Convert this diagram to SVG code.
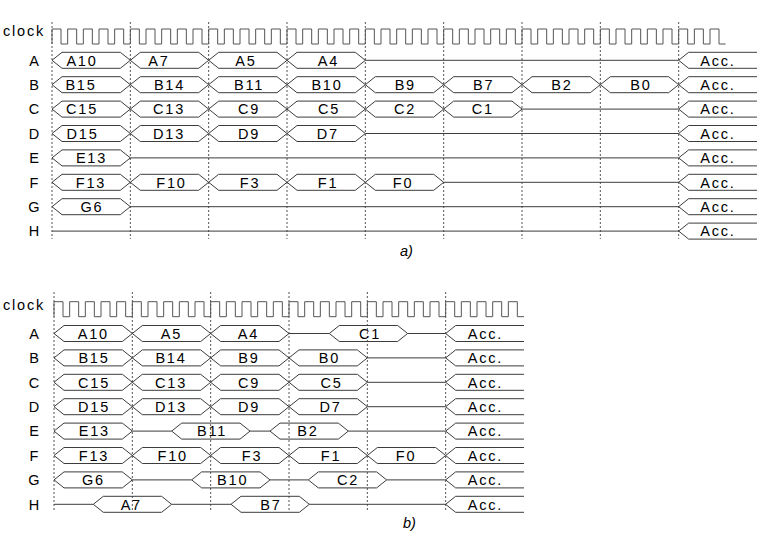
<svg xmlns="http://www.w3.org/2000/svg" width="758" height="534" viewBox="0 0 758 534">
<style>
.t{font-family:"Liberation Sans",Arial,sans-serif;font-size:14.5px;letter-spacing:1.8px;fill:#000;text-anchor:middle}
.l{font-family:"Liberation Sans",Arial,sans-serif;font-size:14.5px;fill:#000;text-anchor:middle}
.ck{font-family:"Liberation Sans",Arial,sans-serif;font-size:14.5px;letter-spacing:1.8px;fill:#000}
.cap{font-family:"Liberation Sans",Arial,sans-serif;font-size:14.5px;font-style:italic;fill:#000}
.s{fill:none;stroke:#3c3c3c;stroke-width:1}
.clk{fill:none;stroke:#555;stroke-width:1}
.d{stroke:#555;stroke-width:1;stroke-dasharray:2,2}
</style>
<defs>
<path id="hx" d="M0,0L10,-8H68.33L78.33,0L68.33,8H10Z" class="s"/>
<path id="acc" d="M0,0L10,-8H78.33M0,0L10,8H78.33" class="s"/>
</defs>
<rect width="758" height="534" fill="#fff"/>

<g id="part-a">
<g id="a-grid">
<path class="d" d="M52,22V239M130.33,22V239M208.67,22V239M287,22V239M365.33,22V239M443.67,22V239M522,22V239M600.33,22V239M678.67,22V239"/>
</g>
<g id="a-clock">
<text class="ck" x="3" y="36">clock</text>
<path class="clk" d="M52,44v-15h9v15h6.667v-15h9v15h6.667v-15h9v15h6.667v-15h9v15h6.667v-15h9v15h6.667v-15h9v15h6.667v-15h9v15h6.667v-15h9v15h6.667v-15h9v15h6.667v-15h9v15h6.667v-15h9v15h6.667v-15h9v15h6.667v-15h9v15h6.667v-15h9v15h6.667v-15h9v15h6.667v-15h9v15h6.667v-15h9v15h6.667v-15h9v15h6.667v-15h9v15h6.667v-15h9v15h6.667v-15h9v15h6.667v-15h9v15h6.667v-15h9v15h6.667v-15h9v15h6.667v-15h9v15h6.667v-15h9v15h6.667v-15h9v15h6.667v-15h9v15h6.667v-15h9v15h6.667v-15h9v15h6.667v-15h9v15h6.667v-15h9v15h6.667v-15h9v15h6.667v-15h9v15h6.667v-15h9v15h6.667v-15h9v15h6.667v-15h9v15h6.667v-15h9v15h6.667v-15h9v15h6.667v-15h9v15h6.667v-15h9v15h6.667v-15h9v15h6.667v-15h9v15h6.667"/>
</g>
<g id="a-labels">
<text class="l" x="34" y="65.6">A</text>
<text class="l" x="34" y="90">B</text>
<text class="l" x="34" y="114.4">C</text>
<text class="l" x="34" y="138.8">D</text>
<text class="l" x="34" y="163.2">E</text>
<text class="l" x="34" y="187.6">F</text>
<text class="l" x="34" y="212">G</text>
<text class="l" x="34" y="236.4">H</text>
</g>
<g id="a-row-A">
<use href="#hx" x="52" y="60.3"/><use href="#hx" x="130.33" y="60.3"/><use href="#hx" x="208.67" y="60.3"/><use href="#hx" x="287" y="60.3"/>
<path class="s" d="M365.33,60.3H678.67"/><use href="#acc" x="678.67" y="60.3"/>
<text class="t" x="82" y="65.6">A10</text><text class="t" x="159" y="65.6">A7</text><text class="t" x="246" y="65.6">A5</text><text class="t" x="328.5" y="65.6">A4</text><text class="t" x="718" y="65.6">Acc.</text>
</g>
<g id="a-row-B">
<use href="#hx" x="52" y="84.7"/><use href="#hx" x="130.33" y="84.7"/><use href="#hx" x="208.67" y="84.7"/><use href="#hx" x="287" y="84.7"/><use href="#hx" x="365.33" y="84.7"/><use href="#hx" x="443.67" y="84.7"/><use href="#hx" x="522" y="84.7"/><use href="#hx" x="600.33" y="84.7"/>
<use href="#acc" x="678.67" y="84.7"/>
<text class="t" x="81" y="90">B15</text><text class="t" x="169.5" y="90">B14</text><text class="t" x="249" y="90">B11</text><text class="t" x="327" y="90">B10</text><text class="t" x="405.3" y="90">B9</text><text class="t" x="483.7" y="90">B7</text><text class="t" x="562" y="90">B2</text><text class="t" x="641" y="90">B0</text><text class="t" x="718" y="90">Acc.</text>
</g>
<g id="a-row-C">
<use href="#hx" x="52" y="109.1"/><use href="#hx" x="130.33" y="109.1"/><use href="#hx" x="208.67" y="109.1"/><use href="#hx" x="287" y="109.1"/><use href="#hx" x="365.33" y="109.1"/><use href="#hx" x="443.67" y="109.1"/>
<path class="s" d="M522,109.1H678.67"/><use href="#acc" x="678.67" y="109.1"/>
<text class="t" x="82" y="114.4">C15</text><text class="t" x="169" y="114.4">C13</text><text class="t" x="249" y="114.4">C9</text><text class="t" x="329" y="114.4">C5</text><text class="t" x="405" y="114.4">C2</text><text class="t" x="482.7" y="114.4">C1</text><text class="t" x="718" y="114.4">Acc.</text>
</g>
<g id="a-row-D">
<use href="#hx" x="52" y="133.5"/><use href="#hx" x="130.33" y="133.5"/><use href="#hx" x="208.67" y="133.5"/><use href="#hx" x="287" y="133.5"/>
<path class="s" d="M365.33,133.5H678.67"/><use href="#acc" x="678.67" y="133.5"/>
<text class="t" x="82.5" y="138.8">D15</text><text class="t" x="169" y="138.8">D13</text><text class="t" x="249" y="138.8">D9</text><text class="t" x="327.8" y="138.8">D7</text><text class="t" x="718" y="138.8">Acc.</text>
</g>
<g id="a-row-E">
<use href="#hx" x="52" y="157.9"/>
<path class="s" d="M130.33,157.9H678.67"/><use href="#acc" x="678.67" y="157.9"/>
<text class="t" x="91.5" y="163.2">E13</text><text class="t" x="718" y="163.2">Acc.</text>
</g>
<g id="a-row-F">
<use href="#hx" x="52" y="182.3"/><use href="#hx" x="130.33" y="182.3"/><use href="#hx" x="208.67" y="182.3"/><use href="#hx" x="287" y="182.3"/><use href="#hx" x="365.33" y="182.3"/>
<path class="s" d="M443.67,182.3H678.67"/><use href="#acc" x="678.67" y="182.3"/>
<text class="t" x="91" y="187.6">F13</text><text class="t" x="171.5" y="187.6">F10</text><text class="t" x="250" y="187.6">F3</text><text class="t" x="328" y="187.6">F1</text><text class="t" x="403" y="187.6">F0</text><text class="t" x="718" y="187.6">Acc.</text>
</g>
<g id="a-row-G">
<use href="#hx" x="52" y="206.7"/>
<path class="s" d="M130.33,206.7H678.67"/><use href="#acc" x="678.67" y="206.7"/>
<text class="t" x="92" y="212">G6</text><text class="t" x="718" y="212">Acc.</text>
</g>
<g id="a-row-H">
<path class="s" d="M52,231.1H678.67"/><use href="#acc" x="678.67" y="231.1"/>
<text class="t" x="718" y="236.4">Acc.</text>
</g>
<text class="cap" x="400" y="256">a)</text>
</g>

<g id="part-b">
<g id="b-grid">
<path class="d" d="M54,292V512M132.33,292V512M210.67,292V512M289,292V512M367.33,292V512M445.67,292V512"/>
</g>
<g id="b-clock">
<text class="ck" x="3" y="309.5">clock</text>
<path class="clk" d="M54,316.7v-15h9v15h6.667v-15h9v15h6.667v-15h9v15h6.667v-15h9v15h6.667v-15h9v15h6.667v-15h9v15h6.667v-15h9v15h6.667v-15h9v15h6.667v-15h9v15h6.667v-15h9v15h6.667v-15h9v15h6.667v-15h9v15h6.667v-15h9v15h6.667v-15h9v15h6.667v-15h9v15h6.667v-15h9v15h6.667v-15h9v15h6.667v-15h9v15h6.667v-15h9v15h6.667v-15h9v15h6.667v-15h9v15h6.667v-15h9v15h6.667v-15h9v15h6.667v-15h9v15h6.667v-15h9v15h6.667v-15h9v15h6.667v-15h9v15h6.667v-15h9v15h6.667v-15h9v15h6.667v-15h9v15h6.667"/>
</g>
<g id="b-labels">
<text class="l" x="34" y="338.8">A</text>
<text class="l" x="34" y="363.2">B</text>
<text class="l" x="34" y="387.6">C</text>
<text class="l" x="34" y="412">D</text>
<text class="l" x="34" y="436.4">E</text>
<text class="l" x="34" y="460.8">F</text>
<text class="l" x="34" y="485.2">G</text>
<text class="l" x="34" y="509.6">H</text>
</g>
<g id="b-row-A">
<use href="#hx" x="54" y="333.5"/><use href="#hx" x="132.33" y="333.5"/><use href="#hx" x="210.67" y="333.5"/>
<path class="s" d="M289,333.5H329.3M407.63,333.5H445.67"/><use href="#hx" x="329.3" y="333.5"/><use href="#acc" x="445.67" y="333.5"/>
<text class="t" x="93.3" y="338.8">A10</text><text class="t" x="171.5" y="338.8">A5</text><text class="t" x="248.5" y="338.8">A4</text><text class="t" x="370" y="338.8">C1</text><text class="t" x="485.5" y="338.8">Acc.</text>
</g>
<g id="b-row-B">
<use href="#hx" x="54" y="357.9"/><use href="#hx" x="132.33" y="357.9"/><use href="#hx" x="210.67" y="357.9"/><use href="#hx" x="289" y="357.9"/>
<path class="s" d="M367.33,357.9H445.67"/><use href="#acc" x="445.67" y="357.9"/>
<text class="t" x="94" y="363.2">B15</text><text class="t" x="171" y="363.2">B14</text><text class="t" x="249" y="363.2">B9</text><text class="t" x="329.5" y="363.2">B0</text><text class="t" x="485.5" y="363.2">Acc.</text>
</g>
<g id="b-row-C">
<use href="#hx" x="54" y="382.3"/><use href="#hx" x="132.33" y="382.3"/><use href="#hx" x="210.67" y="382.3"/><use href="#hx" x="289" y="382.3"/>
<path class="s" d="M367.33,382.3H445.67"/><use href="#acc" x="445.67" y="382.3"/>
<text class="t" x="94" y="387.6">C15</text><text class="t" x="171" y="387.6">C13</text><text class="t" x="249" y="387.6">C9</text><text class="t" x="331.5" y="387.6">C5</text><text class="t" x="485.5" y="387.6">Acc.</text>
</g>
<g id="b-row-D">
<use href="#hx" x="54" y="406.7"/><use href="#hx" x="132.33" y="406.7"/><use href="#hx" x="210.67" y="406.7"/><use href="#hx" x="289" y="406.7"/>
<path class="s" d="M367.33,406.7H445.67"/><use href="#acc" x="445.67" y="406.7"/>
<text class="t" x="94" y="412">D15</text><text class="t" x="171" y="412">D13</text><text class="t" x="249" y="412">D9</text><text class="t" x="330.5" y="412">D7</text><text class="t" x="485.5" y="412">Acc.</text>
</g>
<g id="b-row-E">
<use href="#hx" x="54" y="431.1"/><use href="#hx" x="171.7" y="431.1"/><use href="#hx" x="270" y="431.1"/>
<path class="s" d="M132.33,431.1H171.7M250,431.1H270M348.33,431.1H445.67"/><use href="#acc" x="445.67" y="431.1"/>
<text class="t" x="94.3" y="436.4">E13</text><text class="t" x="212" y="436.4">B11</text><text class="t" x="308" y="436.4">B2</text><text class="t" x="485.5" y="436.4">Acc.</text>
</g>
<g id="b-row-F">
<use href="#hx" x="54" y="455.5"/><use href="#hx" x="132.33" y="455.5"/><use href="#hx" x="210.67" y="455.5"/><use href="#hx" x="289" y="455.5"/><use href="#hx" x="367.33" y="455.5"/>
<use href="#acc" x="445.67" y="455.5"/>
<text class="t" x="94" y="460.8">F13</text><text class="t" x="172.7" y="460.8">F10</text><text class="t" x="252" y="460.8">F3</text><text class="t" x="331" y="460.8">F1</text><text class="t" x="406" y="460.8">F0</text><text class="t" x="485.5" y="460.8">Acc.</text>
</g>
<g id="b-row-G">
<use href="#hx" x="54" y="479.9"/><use href="#hx" x="191.7" y="479.9"/><use href="#hx" x="308.3" y="479.9"/>
<path class="s" d="M132.33,479.9H191.7M270,479.9H308.3M386.63,479.9H445.67"/><use href="#acc" x="445.67" y="479.9"/>
<text class="t" x="93.5" y="485.2">G6</text><text class="t" x="232.7" y="485.2">B10</text><text class="t" x="348" y="485.2">C2</text><text class="t" x="485.5" y="485.2">Acc.</text>
</g>
<g id="b-row-H">
<use href="#hx" x="93.3" y="504.3"/><use href="#hx" x="231" y="504.3"/>
<path class="s" d="M54,504.3H93.3M171.63,504.3H231M309.33,504.3H445.67"/><use href="#acc" x="445.67" y="504.3"/>
<text class="t" x="131.3" y="509.6">A7</text><text class="t" x="271" y="509.6">B7</text><text class="t" x="485.5" y="509.6">Acc.</text>
</g>
<text class="cap" x="403" y="528">b)</text>
</g>
</svg>
